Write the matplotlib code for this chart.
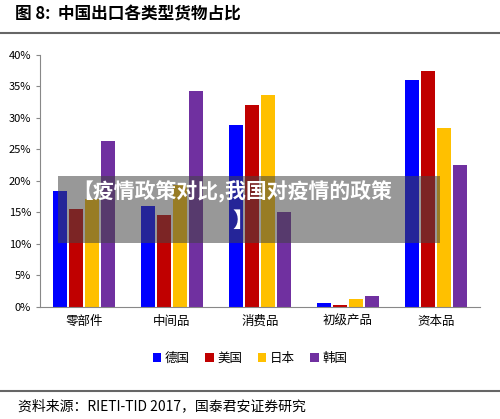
import matplotlib.pyplot as plt
import numpy as np
from matplotlib.lines import Line2D
from matplotlib.patches import Rectangle

plt.rcParams['font.family'] = ['Noto Sans CJK SC', 'DejaVu Sans']

categories = ['零部件', '中间品', '消费品', '初级产品', '资本品']
countries = ['德国', '美国', '日本', '韩国']
colors = ['#0000FF', '#C00000', '#FFC000', '#7030A0']
values = [
    [18.4, 16.0, 28.8, 0.6, 36.0],   # 德国
    [15.5, 14.5, 32.1, 0.3, 37.5],   # 美国
    [17.1, 19.3, 33.7, 1.2, 28.4],   # 日本
    [26.3, 34.2, 15.1, 1.7, 22.5],   # 韩国
]

fig = plt.figure(figsize=(5, 4.19), dpi=100)
ax = fig.add_axes([0.08, 0.268, 0.88, 0.601])

x = np.arange(len(categories))
w = 0.16
for i, (name, vals) in enumerate(zip(countries, values)):
    ax.bar(x + (i - 1.5) * w * 1.15, vals, w, color=colors[i], label=name)

ax.set_ylim(0, 40)
ax.set_xlim(-0.5, 4.5)
ax.set_yticks(range(0, 41, 5))
ax.set_yticklabels([f'{v}%' for v in range(0, 41, 5)], fontsize=8)
ax.set_xticks(x)
ax.set_xticklabels(categories, fontsize=9)
ax.tick_params(axis='x', length=0, pad=6)
ax.tick_params(axis='y', length=3, color='#888888')
for s in ['top', 'right']:
    ax.spines[s].set_visible(False)
for s in ['left', 'bottom']:
    ax.spines[s].set_color('#888888')

fig.legend(loc='center', bbox_to_anchor=(0.5, 0.145), ncol=4, frameon=False,
           handlelength=0.7, handleheight=0.7, handletextpad=0.3, columnspacing=1.2,
           fontsize=9)

fig.text(0.03, 0.965, '图 8:  中国出口各类型货物占比', fontsize=12, weight='bold', va='center')
fig.add_artist(Line2D([0, 1], [0.921, 0.921], color='#666666', lw=1.5))
fig.add_artist(Line2D([0, 1], [0.067, 0.067], color='#666666', lw=1.5))
fig.text(0.035, 0.03, '资料来源：RIETI-TID 2017，国泰君安证券研究', fontsize=10, va='center')

# overlay banner
fig.add_artist(Rectangle((0.116, 0.42), 0.764, 0.16, transform=fig.transFigure,
                         color='#444444', alpha=0.55, lw=0))
fig.text(0.145, 0.543, '【疫情政策对比,我国对疫情的政策', fontsize=15, weight='bold',
         color='white', va='center')
fig.text(0.465, 0.475, '】', fontsize=15, weight='bold', color='white', va='center')

fig.savefig('out.png', dpi=100)
